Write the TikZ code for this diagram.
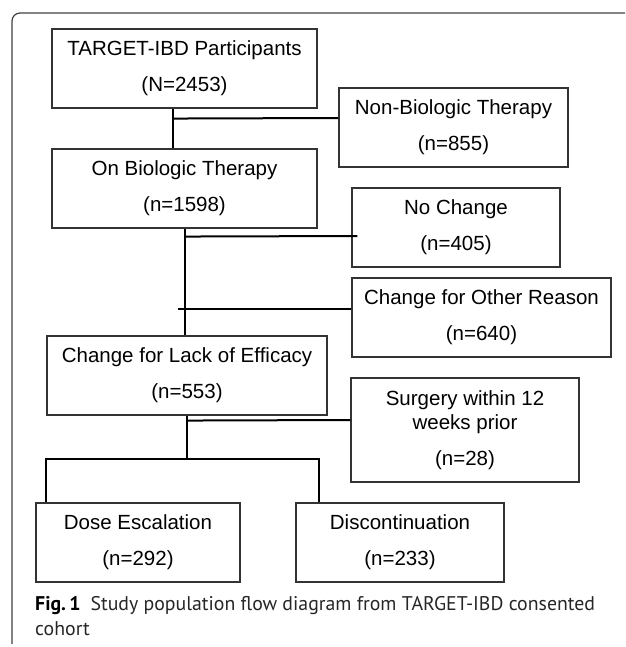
\documentclass[tikz,border=0pt]{standalone}
\usepackage{fontspec}
\setmainfont{Liberation Sans}
\newfontfamily\capfont{PT Sans}
\usetikzlibrary{calc}

\tikzset{
	box/.style={draw=black!80, line width=1.1pt, rectangle, inner sep=0pt,
		minimum height=79pt, align=center, font=\fontsize{20.5}{24}\selectfont},
	link/.style={line width=2pt, color=black},
	frame/.style={line width=1.2pt, color=black!75, rounded corners=8pt},
	captext/.style={anchor=base west, inner sep=0pt, font=\capfont\fontsize{19.8}{20}\selectfont, color=black!85}
}

\begin{document}
\begin{tikzpicture}[x=1pt, y=-1pt]
		%%%%% START %%%%%
		\useasboundingbox (0, 0) rectangle (625, 647);
		
		\draw[frame] (12, 644) -- (12, 13) -- (625, 13);
		
		\node[box, minimum width=265pt] (target) at (184.5, 68.5) {TARGET-IBD Participants\\[12pt](N=2453)};
		\node[box, minimum width=229pt] (nonbio) at (453.5, 127.5) {Non-Biologic Therapy\\[12pt](n=855)};
		\node[box, minimum width=265pt] (onbio) at (184.5, 188.5) {On Biologic Therapy\\[12pt](n=1598)};
		\node[box, minimum width=208pt] (nochange) at (456, 227.5) {No Change\\[12pt](n=405)};
		\node[box, minimum width=259pt] (other) at (481.5, 317.5) {Change for Other Reason\\[12pt](n=640)};
		\node[box, minimum width=280pt] (lack) at (187, 375.5) {Change for Lack of Efficacy\\[12pt](n=553)};
		\node[box, minimum width=228pt, minimum height=104pt] (surgery) at (465, 430) {Surgery within 12\\weeks prior\\[12pt](n=28)};
		\node[box, minimum width=204pt] (dose) at (138, 542.5) {Dose Escalation\\[12pt](n=292)};
		\node[box, minimum width=208pt] (discont) at (400, 542.5) {Discontinuation\\[12pt](n=233)};
		
		\draw[link] ([xshift=-11.5pt]target.south) -- ([xshift=-11.5pt]onbio.north);
		\draw[link] ([xshift=-11.5pt, yshift=-10pt]target.south) -- ([yshift=9.5pt]nonbio.west);
		
		\draw[link] ([xshift=0.5pt]onbio.south) -- ([xshift=0.5pt]onbio.south |- lack.north);
		\draw[link] ([yshift=-8pt]onbio.south) -- ([xshift=6pt, yshift=-8.5pt]nochange.west);
		\draw[link] ([xshift=-6.5pt]onbio.south |- other.west) ++(0, -8.5) -- ([yshift=8.5pt]other.west);
		
		\coordinate (fork) at ([yshift=-43pt]lack.south);
		\draw[link] (lack.south) -- (fork);
		\draw[link] ([yshift=-5pt]lack.south) -- ([yshift=10pt]surgery.west);
		\draw[link] ([xshift=-92pt]dose.north) |- (fork) -| ([xshift=-81pt]discont.north);
		
		\node[captext] (cap1) at (35, 610) {\textbf{\color{black}Fig.\,1}\hspace{10pt}Study population flow diagram from TARGET-IBD consented};
		\node[captext] (cap2) at (35, 635) {cohort};
		%%%%% END %%%%%
\end{tikzpicture}
\end{document}
